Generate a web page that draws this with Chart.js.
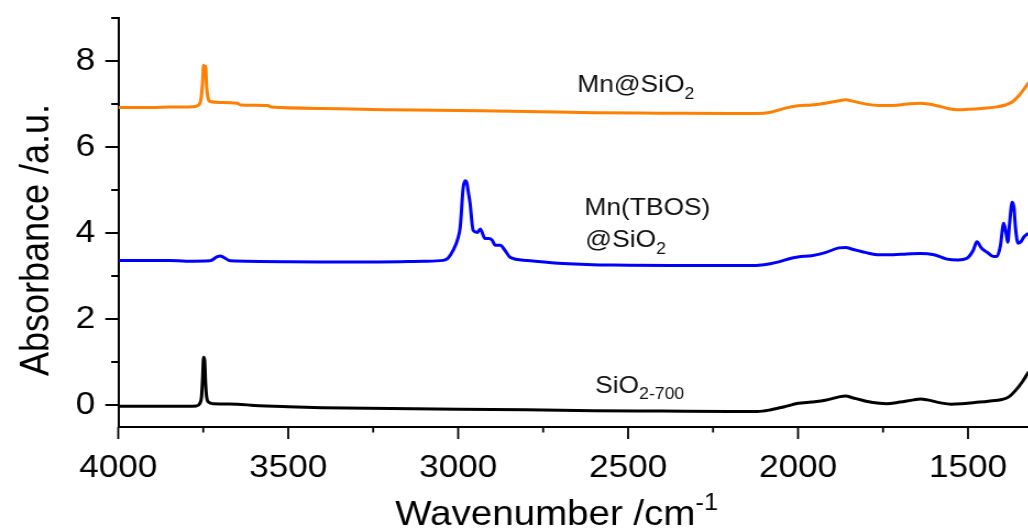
<!DOCTYPE html>
<html>
<head>
<meta charset="utf-8">
<title>FTIR spectra</title>
<script src="https://cdn.jsdelivr.net/npm/chart.js@4.4.0/dist/chart.umd.min.js"></script>
<style>
  html, body { margin: 0; padding: 0; background: #fff; overflow: hidden; }
  #wrap { width: 1028px; height: 532px; overflow: hidden; }
  /* the figure is slightly wider than tall fonts suggest, so stretch horizontally */
  #spectra { transform: scaleX(1.1); transform-origin: 0 0; display: block; }
</style>
</head>
<body>
<div id="wrap"><canvas id="spectra" width="935" height="532"></canvas></div>
<script>
// ---------- spectra (wavenumber in cm-1, absorbance in a.u.) ----------
const sioWn = [4000, 3900, 3800, 3770, 3760, 3755, 3752, 3749, 3746, 3743, 3740, 3735, 3720, 3650, 3600,
  3500, 3400, 3200, 3000, 2800, 2600, 2400, 2200, 2120, 2080, 2040, 2000, 1960, 1920, 1880, 1860, 1840,
  1800, 1760, 1740, 1700, 1660, 1640, 1620, 1580, 1550, 1520, 1480, 1440, 1400, 1380, 1360, 1340, 1322];
const sioAbs = [-0.02, -0.02, -0.02, -0.01, 0.05, 0.2, 0.6, 1.12, 1.05, 0.5, 0.2, 0.08, 0.04, 0.03, 0.0,
  -0.03, -0.05, -0.07, -0.09, -0.1, -0.12, -0.13, -0.14, -0.14, -0.1, -0.03, 0.05, 0.08, 0.12, 0.2, 0.22, 0.18,
  0.1, 0.05, 0.04, 0.08, 0.13, 0.15, 0.13, 0.06, 0.03, 0.04, 0.07, 0.1, 0.14, 0.2, 0.35, 0.55, 0.78];

const tbosWn = [4000, 3850, 3800, 3730, 3710, 3700, 3690, 3670, 3500, 3300, 3100, 3044, 3030, 3015, 3000,
  2994, 2985, 2979, 2974, 2970, 2965, 2956, 2944, 2935, 2921, 2910, 2900, 2891, 2876, 2862, 2847, 2797,
  2691, 2544, 2300, 2150, 2100, 2060, 2020, 2000, 1960, 1920, 1880, 1860, 1840, 1800, 1760, 1720, 1680,
  1640, 1600, 1562, 1530, 1503, 1485, 1474, 1460, 1444, 1425, 1415, 1405, 1395, 1388, 1383, 1378, 1370,
  1365, 1360, 1353, 1345, 1335, 1322];
const tbosAbs = [3.37, 3.37, 3.35, 3.36, 3.45, 3.47, 3.44, 3.36, 3.34, 3.33, 3.35, 3.37, 3.42, 3.6, 3.9,
  4.14, 5.07, 5.22, 5.15, 4.95, 4.7, 4.07, 4.02, 4.1, 3.88, 3.88, 3.84, 3.72, 3.72, 3.6, 3.44, 3.37,
  3.3, 3.26, 3.25, 3.25, 3.27, 3.33, 3.42, 3.45, 3.48, 3.55, 3.66, 3.67, 3.63, 3.55, 3.5, 3.5, 3.52,
  3.53, 3.5, 3.4, 3.38, 3.42, 3.6, 3.8, 3.65, 3.56, 3.46, 3.46, 3.7, 4.23, 4.0, 3.79, 4.2, 4.72,
  4.6, 4.1, 3.77, 3.8, 3.92, 4.0];

const mnWn = [4000, 3900, 3850, 3780, 3765, 3757, 3752, 3749, 3746, 3743, 3740, 3736, 3730, 3700, 3650,
  3640, 3560, 3550, 3400, 3200, 3000, 2800, 2600, 2400, 2200, 2120, 2080, 2040, 2000, 1960, 1920, 1880,
  1860, 1840, 1800, 1760, 1720, 1680, 1640, 1600, 1560, 1530, 1500, 1460, 1420, 1390, 1370, 1350, 1335, 1322];
const mnAbs = [6.92, 6.92, 6.93, 6.94, 6.97, 7.1, 7.5, 7.9, 7.75, 7.88, 7.4, 7.15, 7.06, 7.04, 7.02,
  6.98, 6.97, 6.93, 6.9, 6.87, 6.85, 6.83, 6.8, 6.79, 6.78, 6.78, 6.81, 6.9, 6.96, 6.98, 7.02, 7.08,
  7.1, 7.07, 7.0, 6.97, 6.97, 7.0, 7.02, 6.98, 6.9, 6.87, 6.88, 6.9, 6.93, 6.98, 7.05, 7.2, 7.35, 7.5];

// axis ranges and tick steps
const wnRange = [1322, 4000];
const absRange = [-0.5, 9];
const wnMajor = 500, wnMinor = 250;
const absMajor = 2, absMinor = 1;

const FONT = '"Liberation Sans", Arial, sans-serif';

function toPoints(xs, ys) {
  return xs.map((x, i) => ({ x: x, y: ys[i] }));
}

function isMultiple(v, step) {
  const r = Math.round(v);
  return Math.abs(v - r) < 1e-6 && r % step === 0;
}

// text pieces: s = -1 subscript, 1 superscript, 0 normal
function drawRich(ctx, parts, x, y, size) {
  let cx = x;
  parts.forEach(p => {
    const fs = p.s ? Math.round(size * 0.66) : size;
    const dy = p.s === -1 ? size * 0.28 : (p.s === 1 ? -size * 0.42 : 0);
    ctx.font = fs + 'px ' + FONT;
    ctx.fillText(p.t, cx, y + dy);
    cx += ctx.measureText(p.t).width;
  });
  return cx - x;
}

function richWidth(ctx, parts, size) {
  let w = 0;
  parts.forEach(p => {
    const fs = p.s ? Math.round(size * 0.66) : size;
    ctx.font = fs + 'px ' + FONT;
    w += ctx.measureText(p.t).width;
  });
  return w;
}

// curve names, placed in data units (left edge / baseline)
const curveNotes = [
  { wn: 2650, abs: 7.28, parts: [{ t: 'Mn@SiO', s: 0 }, { t: '2', s: -1 }] },
  { wn: 2629, abs: 4.42, parts: [{ t: 'Mn(TBOS)', s: 0 }] },
  { wn: 2626, abs: 3.67, parts: [{ t: '@SiO', s: 0 }, { t: '2', s: -1 }] },
  { wn: 2597, abs: 0.30, parts: [{ t: 'SiO', s: 0 }, { t: '2-700', s: -1 }] }
];

const decorations = {
  id: 'decorations',
  afterDraw(chart) {
    const { ctx, chartArea } = chart;
    const xs = chart.scales.x, ys = chart.scales.y;
    ctx.save();
    ctx.strokeStyle = '#000';
    ctx.fillStyle = '#000';

    // y ticks (outward, minor shorter)
    ctx.lineWidth = 2;
    for (let v = 0; v <= absRange[1]; v += absMinor) {
      const py = Math.round(ys.getPixelForValue(v));
      const len = isMultiple(v, absMajor) ? 11.8 : 6.4;
      ctx.beginPath();
      ctx.moveTo(chartArea.left, py);
      ctx.lineTo(chartArea.left - len, py);
      ctx.stroke();
    }
    // x ticks
    ctx.lineWidth = 1.8;
    for (let v = wnRange[1]; v >= 1500; v -= wnMinor) {
      const px = xs.getPixelForValue(v);
      const len = isMultiple(v, wnMajor) ? 12 : 5.5;
      ctx.beginPath();
      ctx.moveTo(px, chartArea.bottom);
      ctx.lineTo(px, chartArea.bottom + len);
      ctx.stroke();
    }

    // curve names
    ctx.textAlign = 'left';
    ctx.textBaseline = 'alphabetic';
    ctx.fillStyle = '#111';
    curveNotes.forEach(n => {
      drawRich(ctx, n.parts, xs.getPixelForValue(n.wn), ys.getPixelForValue(n.abs), 24);
    });

    // axis titles
    ctx.fillStyle = '#000';
    const xTitle = [{ t: 'Wavenumber /cm', s: 0 }, { t: '-1', s: 1 }];
    const tw = richWidth(ctx, xTitle, 35);
    drawRich(ctx, xTitle, 506 - tw / 2, 525, 35);

    ctx.save();
    ctx.translate(44, 240);
    ctx.rotate(-Math.PI / 2);
    ctx.font = '36px ' + FONT;
    ctx.textAlign = 'center';
    ctx.fillText('Absorbance /a.u.', 0, 0);
    ctx.restore();

    ctx.restore();
  }
};

const ctx = document.getElementById('spectra').getContext('2d');

new Chart(ctx, {
  type: 'line',
  data: {
    datasets: [
      { label: 'SiO2-700', data: toPoints(sioWn, sioAbs), borderColor: '#000000' },
      { label: 'Mn(TBOS)@SiO2', data: toPoints(tbosWn, tbosAbs), borderColor: '#0000ff' },
      { label: 'Mn@SiO2', data: toPoints(mnWn, mnAbs), borderColor: '#ff7f00' }
    ]
  },
  options: {
    responsive: false,
    animation: false,
    layout: { padding: { top: 18, right: 0, bottom: 0, left: 0 } },
    elements: {
      point: { radius: 0 },
      line: { borderWidth: 3, cubicInterpolationMode: 'monotone', fill: false }
    },
    plugins: {
      legend: { display: false },
      tooltip: { enabled: false }
    },
    scales: {
      x: {
        type: 'linear',
        reverse: true,
        min: wnRange[0],
        max: wnRange[1],
        grid: { display: false, drawTicks: false },
        border: { display: true, color: '#000', width: 2 },
        ticks: {
          stepSize: wnMinor,
          includeBounds: false,
          padding: 22,
          color: '#000',
          maxRotation: 0,
          autoSkip: false,
          font: { family: FONT, size: 32 },
          callback: v => (isMultiple(v, wnMajor) ? String(Math.round(v)) : null)
        },
        afterFit: s => { s.height = 105; s.paddingLeft = 0; s.paddingRight = 0; }
      },
      y: {
        type: 'linear',
        min: absRange[0],
        max: absRange[1],
        grid: { display: false, drawTicks: false },
        border: { display: true, color: '#000', width: 2 },
        ticks: {
          stepSize: absMinor,
          includeBounds: false,
          padding: 21,
          color: '#000',
          autoSkip: false,
          font: { family: FONT, size: 32 },
          callback: v => (isMultiple(v, absMajor) ? String(Math.round(v)) : null)
        },
        afterFit: s => { s.width = 107.5; s.paddingTop = 0; s.paddingBottom = 0; }
      }
    }
  },
  plugins: [decorations]
});
</script>
</body>
</html>
